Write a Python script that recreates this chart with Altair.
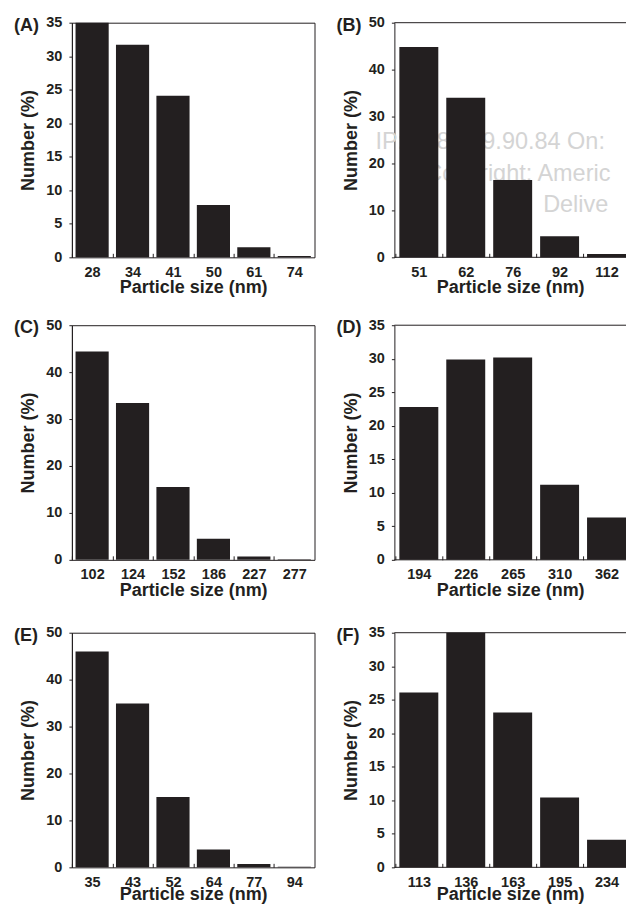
import altair as alt
import pandas as pd

FONT = "Liberation Sans"
INK = "#231f20"

panel_labels = ["(A)", "(B)", "(C)", "(D)", "(E)", "(F)"]

sizes_a = ["28", "34", "41", "50", "61", "74"]
number_a = [35.0, 31.7, 24.1, 7.8, 1.5, 0.2]

sizes_b = ["51", "62", "76", "92", "112"]
number_b = [44.8, 34.0, 16.5, 4.5, 0.7]

sizes_c = ["102", "124", "152", "186", "227", "277"]
number_c = [44.4, 33.4, 15.5, 4.5, 0.7, 0.15]

sizes_d = ["194", "226", "265", "310", "362"]
number_d = [22.8, 29.9, 30.2, 11.2, 6.3]

sizes_e = ["35", "43", "52", "64", "77", "94"]
number_e = [46.0, 34.9, 15.0, 3.8, 0.7, 0.15]

sizes_f = ["113", "136", "163", "195", "234"]
number_f = [26.1, 35.0, 23.1, 10.4, 4.1]

y_max = [35, 50, 50, 35, 50, 35]
y_step = [5, 10, 10, 5, 10, 5]

watermark_lines = [
    "IP: 138.199.90.84 On: Tue",
    "Copyright: American Scientific Publishers",
    "Delivered by Ingenta",
]

W_LEFT = 243
W_RIGHT = 232
H = 235


def panel(label, sizes, nums, ymax, ystep, right=False, title_pad=0, watermark=False):
    n = len(sizes)
    w = W_RIGHT if right else W_LEFT
    if right:
        # right panels are cut by the page edge: keep the reference bar pitch,
        # push the outer padding to the left end
        pin, pout, align = 0.17, 0.053, 1
    else:
        pin, pout, align = 0.18, 0.09, 0.5
    step = w / (n - pin + 2 * pout)
    df = pd.DataFrame({"size": sizes, "num": nums})
    bars = alt.Chart(df).mark_bar(color=INK).encode(
        x=alt.X(
            "size:N",
            sort=sizes,
            title="Particle size (nm)",
            scale=alt.Scale(paddingInner=pin, paddingOuter=pout, align=align),
            axis=alt.Axis(
                labelAngle=0,
                tickOffset=-step / 2,
                labelOffset=step / 2,
                tickSize={"expr": "-4"},
                labelPadding=12,
                titlePadding=title_pad,
                domain=False,
            ),
        ),
        y=alt.Y(
            "num:Q",
            title="Number (%)",
            scale=alt.Scale(domain=[0, ymax], nice=False),
            axis=alt.Axis(
                values=list(range(0, ymax + 1, ystep)),
                tickSize=3,
                labelPadding=7,
                titlePadding=8,
            ),
        ),
    )
    tag = alt.Chart(pd.DataFrame({"t": [label]})).mark_text(
        align="left", baseline="middle", font=FONT, fontSize=18,
        fontWeight="bold", color=INK,
    ).encode(text="t:N", x=alt.value(-58), y=alt.value(3))
    layers = []
    if watermark:
        wm_x = [-19, 31, 149]
        wm_y = [127, 159, 190]
        for line, px, py in zip(watermark_lines, wm_x, wm_y):
            layers.append(
                alt.Chart(pd.DataFrame({"t": [line]})).mark_text(
                    align="left", baseline="alphabetic", font=FONT,
                    fontSize=23.5, color="#d4d4d4", limit=w - px - 6, ellipsis=" ",
                ).encode(text="t:N", x=alt.value(px), y=alt.value(py))
            )
    layers += [bars]
    if right:
        frame = alt.Chart(pd.DataFrame({"k": [0]}))
        layers.append(frame.mark_rule(color=INK, strokeWidth=1).encode(
            x=alt.value(0), x2=alt.value(w), y=alt.value(0)))
        layers.append(frame.mark_rule(color=INK, strokeWidth=1).encode(
            x=alt.value(0), x2=alt.value(w), y=alt.value(H)))
    layers.append(tag)
    ch = alt.layer(*layers).properties(width=w, height=H)
    if right:
        ch = ch.properties(view=alt.ViewBackground(stroke="transparent"))
    return ch


pa = panel(panel_labels[0], sizes_a, number_a, y_max[0], y_step[0])
pb = panel(panel_labels[1], sizes_b, number_b, y_max[1], y_step[1], right=True, watermark=True)
pc = panel(panel_labels[2], sizes_c, number_c, y_max[2], y_step[2])
pd_ = panel(panel_labels[3], sizes_d, number_d, y_max[3], y_step[3], right=True)
pe = panel(panel_labels[4], sizes_e, number_e, y_max[4], y_step[4], title_pad=-3)
pf = panel(panel_labels[5], sizes_f, number_f, y_max[5], y_step[5], right=True, title_pad=-3)

row1 = alt.hconcat(pa, pb, spacing=20)
row2 = alt.hconcat(pc, pd_, spacing=20)
row3 = alt.hconcat(pe, pf, spacing=20)

chart = alt.vconcat(
    row1,
    alt.vconcat(row2, row3, spacing=24),
    spacing=19,
).properties(
    padding={"left": 5, "top": 5, "right": 0, "bottom": 0}
).configure(
    font=FONT
).configure_view(
    stroke=INK, strokeWidth=1
).configure_axis(
    grid=False,
    domainColor=INK,
    domainWidth=1,
    tickColor=INK,
    tickWidth=1,
    labelColor=INK,
    titleColor=INK,
    labelFont=FONT,
    titleFont=FONT,
    labelFontWeight="bold",
    titleFontWeight="bold",
    labelFontSize=14.5,
    titleFontSize=18,
)

chart.save("out.html", embed_options={"renderer": "svg", "actions": False})
